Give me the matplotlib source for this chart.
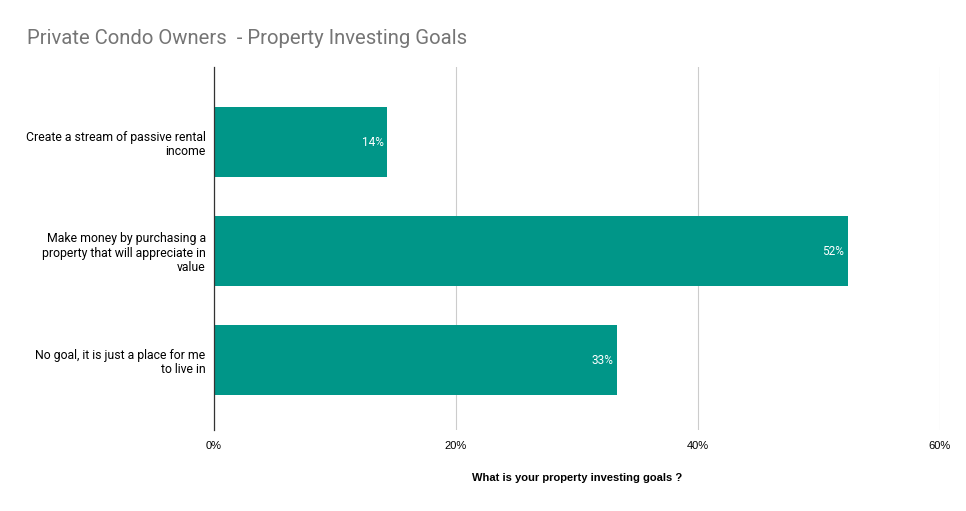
import matplotlib.pyplot as plt
import numpy as np

goals = [
    "Create a stream of passive rental\nincome",
    "Make money by purchasing a\nproperty that will appreciate in\nvalue",
    "No goal, it is just a place for me\nto live in",
]
shares = [14.3, 52.4, 33.3]
value_labels = ["14%", "52%", "33%"]
x_ticks = [0, 20, 40, 60]
x_tick_labels = ["0%", "20%", "40%", "60%"]

fig = plt.figure(figsize=(9.66, 5.11), dpi=100)
ax = fig.add_axes([214 / 966, 1 - 430 / 511, 726 / 966, 363 / 511])

y = np.arange(len(goals))
ax.barh(y, shares, height=0.645, color="#009688", zorder=3)

for yi, v, lab in zip(y, shares, value_labels):
    ax.text(v - 0.3, yi, lab, color="white", ha="right", va="center",
            fontsize=8.5, family="Roboto", zorder=4)

ax.set_xlim(0, 60)
ax.set_ylim(2.64, -0.69)
ax.set_xticks(x_ticks)
ax.set_xticklabels(x_tick_labels, family="Liberation Sans", fontsize=8)
ax.set_yticks(y)
ax.set_yticklabels(goals, family="Roboto", fontsize=8.8, linespacing=1.15)
ax.tick_params(axis="y", length=0, pad=6)
ax.tick_params(axis="x", length=0, pad=8)
ax.grid(axis="x", color="#cccccc", linewidth=0.8, zorder=0)
for s in ["top", "right", "bottom"]:
    ax.spines[s].set_visible(False)
ax.spines["left"].set_color("#333333")
ax.spines["left"].set_linewidth(0.9)
ax.spines["left"].set_zorder(5)

ax.set_xlabel("What is your property investing goals ?", family="Liberation Sans",
              fontweight="bold", fontsize=8, labelpad=16)

fig.text(27 / 966, 1 - 38 / 511, "Private Condo Owners  - Property Investing Goals",
         color="#757575", fontsize=14.6, family="Roboto", va="center", ha="left")

fig.savefig("out.png", dpi=100)
